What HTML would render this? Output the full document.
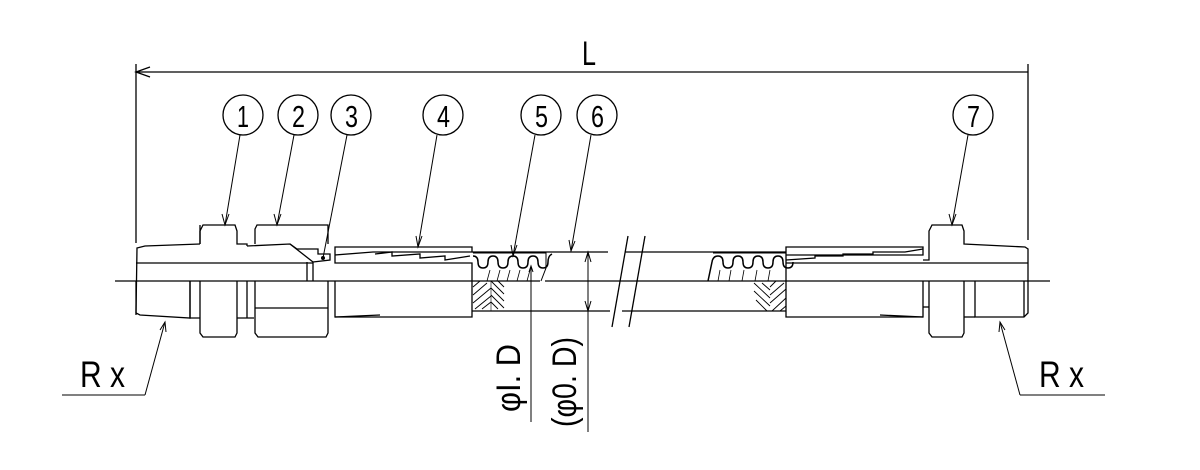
<!DOCTYPE html>
<html><head><meta charset="utf-8"><style>
html,body{margin:0;padding:0;background:#fff;}
svg{display:block}
text{font-family:"Liberation Sans",sans-serif;fill:#000}
</style></head><body>
<svg width="1200" height="470" viewBox="0 0 1200 470" xmlns="http://www.w3.org/2000/svg" fill="none" stroke="#000" stroke-width="1.3">
<!-- Dimension L -->
<line x1="136" y1="72" x2="1028" y2="72"/>
<path d="M150 67 L136 72 L150 77"/>
<line x1="136" y1="64" x2="136" y2="243"/>
<line x1="1028" y1="64" x2="1028" y2="240"/>
<text x="582" y="65" font-size="34" stroke="none" textLength="14" lengthAdjust="spacingAndGlyphs">L</text>

<!-- centerline -->
<line x1="115" y1="281" x2="540" y2="281"/>
<line x1="545" y1="281" x2="1050" y2="281"/>

<!-- balloons -->
<g font-size="31">
<circle cx="243" cy="115" r="20"/><text x="237" y="127" stroke="none" textLength="12" lengthAdjust="spacingAndGlyphs">1</text>
<circle cx="298" cy="115" r="20"/><text x="292" y="127" stroke="none" textLength="13" lengthAdjust="spacingAndGlyphs">2</text>
<circle cx="351" cy="115" r="20"/><text x="345" y="127" stroke="none" textLength="13" lengthAdjust="spacingAndGlyphs">3</text>
<circle cx="443" cy="115" r="20"/><text x="437" y="127" stroke="none" textLength="13" lengthAdjust="spacingAndGlyphs">4</text>
<circle cx="541" cy="115" r="20"/><text x="535" y="127" stroke="none" textLength="13" lengthAdjust="spacingAndGlyphs">5</text>
<circle cx="597" cy="115" r="20"/><text x="591" y="127" stroke="none" textLength="13" lengthAdjust="spacingAndGlyphs">6</text>
<circle cx="973" cy="115" r="20"/><text x="967" y="127" stroke="none" textLength="13" lengthAdjust="spacingAndGlyphs">7</text>
</g>
<!-- leaders -->
<g stroke-width="1">
<line x1="240" y1="135" x2="225" y2="225"/><path d="M222 214 L225 225 L229 214"/>
<line x1="294" y1="135" x2="277" y2="225"/><path d="M274 214 L277 225 L281 214"/>
<line x1="347" y1="135" x2="323" y2="258"/>
<line x1="437" y1="135" x2="418" y2="247"/><path d="M416 236 L418 247 L422 236"/>
<line x1="535" y1="135" x2="513" y2="256"/><path d="M511 245 L513 256 L517 245"/>
<line x1="591" y1="135" x2="571" y2="251"/><path d="M569 240 L571 251 L575 241"/>
<line x1="968" y1="135" x2="952" y2="225"/><path d="M949 214 L952 225 L956 214"/>
</g>
<circle cx="323" cy="258" r="2" fill="#000" stroke="none"/>

<!-- LEFT FITTING -->
<path d="M200 244 L145 246 L137 248 L136 313 L140 315 L190 318 L190 281"/>
<line x1="136" y1="263" x2="313" y2="263"/>
<line x1="136" y1="281" x2="136" y2="315"/>
<line x1="200" y1="244" x2="200" y2="225"/>
<path d="M200 244 L200 231 L203 225 L235 225 L237 231 L237 244 L247 244 L247 246"/>
<path d="M190 281 L190 318 L200 318"/>
<path d="M200 281 L200 333 L203 337 L235 337 L237 333 L237 281"/>
<line x1="237" y1="318" x2="254" y2="318"/>
<line x1="247" y1="281" x2="247" y2="318"/>
<path d="M255 244 L255 229 L257 225 L328 225 L328 244"/>
<path d="M247 246 L290 244 L313 262"/>
<path d="M290 244 L297 249 L318 249 L318 254 L330 254 L330 260 L313 262"/>
<line x1="313" y1="262" x2="313" y2="281"/>
<line x1="307" y1="262" x2="307" y2="281"/>
<path d="M255 281 L255 333 L258 337 L326 337 L328 333 L328 281"/>
<line x1="255" y1="308" x2="328" y2="308"/>
<path d="M335 281 L335 317 L472 317 L472 263 L335 263 L335 255 L373 252 L472 252 L472 247 L335 247 L335 255"/>
<path d="M375 254 L392 252 L392 256 L420 254 L420 258 L445 256 L445 260 L470 256"/>
<line x1="335" y1="317" x2="380" y2="315"/>
<line x1="472" y1="252" x2="608" y2="252"/>
<line x1="472" y1="311" x2="610" y2="311"/>
<path d="M473 256 q5 0 5 6 q0 6 5 6 q5 0 5 -6 q0 -6 5 -6 q5 0 5 6 q0 6 5 6 q5 0 5 -6 q0 -6 5 -6 q5 0 5 6 q0 6 5 6 q5 0 5 -6 q0 -6 5 -6 q5 0 5 6 q0 6 5 6 q5 0 5 -6 q0 -6 4 -8" stroke-width="1.5"/>
<path d="M473 253 L546 253 L546 268 L541 281" stroke-width="1"/>
<g stroke-width="0.8">
<line x1="490" y1="270" x2="487" y2="281"/><line x1="500" y1="270" x2="497" y2="281"/><line x1="510" y1="270" x2="507" y2="281"/><line x1="520" y1="270" x2="517" y2="281"/><line x1="530" y1="270" x2="527" y2="281"/>
</g>
<g stroke-width="0.9">
<path d="M473 287 L480 281 M473 295 L487 283 M473 303 L491 288 M475 309 L491 296 M482 309 L491 302"/>
<path d="M491 281 L504 294 M491 288 L504 301 M491 295 L504 308 M491 302 L498 309 M498 281 L504 287"/>
</g>
<line x1="491" y1="281" x2="491" y2="311" stroke-width="0.6"/>

<!-- break lines -->
<line x1="612" y1="327" x2="628" y2="236"/>
<line x1="629" y1="327" x2="645" y2="236"/>
<!-- hose right -->
<line x1="625" y1="252" x2="786" y2="252"/>
<line x1="622" y1="311" x2="786" y2="311"/>
<path d="M713 253 L786 253" stroke-width="1"/>
<path d="M708 281 L712 262 q1 -6 6 -6 q5 0 5 6 q0 6 5 6 q5 0 5 -6 q0 -6 5 -6 q5 0 5 6 q0 6 5 6 q5 0 5 -6 q0 -6 5 -6 q5 0 5 6 q0 6 5 6 q5 0 5 -6 q0 -6 5 -6 q5 0 5 6 q0 6 5 6 q5 0 5 -6" stroke-width="1.5"/>
<g stroke-width="0.8">
<line x1="720" y1="270" x2="718" y2="281"/><line x1="731" y1="270" x2="729" y2="281"/><line x1="744" y1="270" x2="742" y2="281"/><line x1="757" y1="270" x2="755" y2="281"/><line x1="770" y1="270" x2="768" y2="281"/>
</g>
<g stroke-width="0.9">
<path d="M754 283 L770 298 M754 291 L770 306 M756 300 L767 311 M762 283 L770 290"/>
<path d="M770 287 L776 281 M770 295 L784 283 M770 303 L786 289 M772 311 L786 298 M780 311 L786 306"/>
</g>
<path d="M786 263 L786 317 L923 317 L923 281"/>
<line x1="880" y1="315" x2="923" y2="317"/>
<path d="M786 263 L786 247 L923 247 L923 255 L786 255"/>
<path d="M786 260 L815 258 L815 256 L843 256 L843 254 L873 254 L873 252 L905 252 L923 249"/>
<line x1="786" y1="263" x2="1028" y2="263"/>
<path d="M923 260 L929 260 L929 231 L932 225 L962 225 L964 231 L964 244 L1025 247 L1028 249 L1028 313 L1024 317 L975 317 L975 281"/>
<path d="M929 281 L929 333 L932 337 L962 337 L964 333 L964 281"/>
<line x1="923" y1="307" x2="929" y2="307"/>
<line x1="964" y1="317" x2="975" y2="317"/>
<line x1="1024" y1="281" x2="1024" y2="317"/>

<!-- diameter dims -->
<line x1="531" y1="266" x2="531" y2="422" stroke-width="1"/>
<path d="M529 272 L531 266 L533 272" stroke-width="1"/>
<line x1="588" y1="252" x2="588" y2="432" stroke-width="1"/>
<path d="M585 262 L588 252 L591 262 M585 301 L588 311 L591 301" stroke-width="1"/>
<text transform="translate(520,412) rotate(-90)" font-size="34" stroke="none" textLength="68" lengthAdjust="spacingAndGlyphs">φI. D</text>
<text transform="translate(576,427) rotate(-90)" font-size="34" stroke="none" textLength="90" lengthAdjust="spacingAndGlyphs">(φ0. D)</text>

<!-- R x labels -->
<line x1="62" y1="395" x2="145" y2="395" stroke-width="1"/>
<line x1="145" y1="395" x2="165" y2="322" stroke-width="1"/>
<path d="M160 330 L165 322 L166 332" stroke-width="1"/>
<text x="80" y="387" font-size="37" stroke="none" textLength="45" lengthAdjust="spacingAndGlyphs">R x</text>
<line x1="1020" y1="395" x2="1105" y2="395" stroke-width="1"/>
<line x1="1020" y1="395" x2="1000" y2="322" stroke-width="1"/>
<path d="M999 332 L1000 322 L1005 330" stroke-width="1"/>
<text x="1039" y="387" font-size="37" stroke="none" textLength="45" lengthAdjust="spacingAndGlyphs">R x</text>
</svg>
</body></html>
